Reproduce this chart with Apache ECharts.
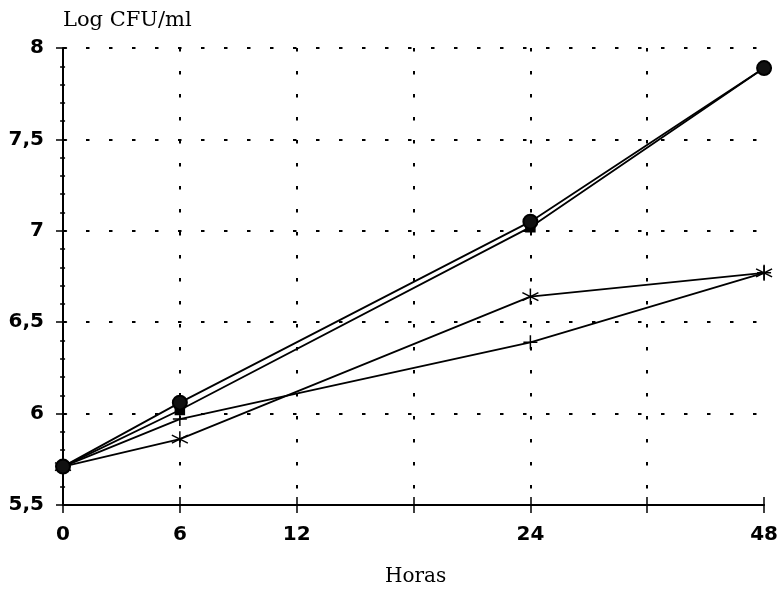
<!DOCTYPE html>
<html>
<head>
<meta charset="utf-8">
<script src="https://cdn.jsdelivr.net/npm/echarts@6/dist/echarts.min.js"></script>
<style>
  html, body { margin: 0; padding: 0; background: #fff; }
  #chart { width: 781px; height: 590px; }
</style>
</head>
<body>
<div id="chart"></div>
<script>
// Sampling times (hours) and the evenly spaced tick slots of the time axis
const hours = [0, 6, 24, 48];
const tickLabels = ['0', '6', '12', '', '24', '', '48'];

// Log CFU/ml for each culture
const seriesCircle = [5.71, 6.06, 7.05, 7.89];
const seriesSquare = [5.71, 6.02, 7.02, 7.89];
const seriesPlus = [5.71, 5.97, 6.39, 6.77];
const seriesStar = [5.71, 5.86, 6.64, 6.77];

const yTicks = [5.5, 6, 6.5, 7, 7.5, 8];

const slotOf = h => tickLabels.indexOf(String(h));
const toPoints = vals => vals.map((v, i) => [slotOf(hours[i]), v]);

const plusPath = 'path://M0,-1L0,1M-1,0L1,0';
const starPath = 'path://M0,-1L0,1M-0.87,-0.5L0.87,0.5M-0.87,0.5L0.87,-0.5';

const ink = '#000';
const tickFont = { color: ink, fontFamily: 'DejaVu Sans', fontWeight: 'bold', fontSize: 20 };
const dotted = { show: true, lineStyle: { color: ink, width: 2, type: [3.5, 19.5] } };

const gridLeft = 63, gridRight = 14, chartW = 781;

function lineSeries(data, symbol, size, extraItem) {
  return {
    type: 'line',
    data: toPoints(data),
    symbol: symbol,
    symbolSize: size,
    showSymbol: true,
    lineStyle: { color: ink, width: 1.8 },
    itemStyle: Object.assign({ color: ink, borderColor: ink, borderWidth: 1.5 }, extraItem || {}),
    z: 3
  };
}

const chart = echarts.init(document.getElementById('chart'));
chart.setOption({
  animation: false,
  backgroundColor: '#fff',
  grid: { left: gridLeft, right: gridRight, top: 48, bottom: 85, containLabel: false },
  xAxis: [
    {
      type: 'value', min: 0, max: tickLabels.length - 1, interval: 1, position: 'bottom',
      axisLine: { show: true, onZero: false, lineStyle: { color: ink, width: 2 } },
      axisTick: { show: true, length: 8, lineStyle: { color: ink, width: 1.5 } },
      axisLabel: { ...tickFont, margin: 20, formatter: v => tickLabels[v] || '' },
      splitLine: { ...dotted, showMinLine: false, showMaxLine: false }
    },
    {
      type: 'value', min: 0, max: tickLabels.length - 1, interval: 1, position: 'bottom',
      axisLine: { show: false, onZero: false },
      axisTick: { show: true, inside: true, length: 8, lineStyle: { color: ink, width: 1.5 } },
      axisLabel: { show: false },
      splitLine: { show: false }
    }
  ],
  yAxis: [
    {
      type: 'value', min: 5.5, max: 8, interval: 0.5, position: 'left',
      axisLine: { show: true, onZero: false, lineStyle: { color: ink, width: 2 } },
      axisTick: { show: true, length: 7, lineStyle: { color: ink, width: 1.5 } },
      axisLabel: { ...tickFont, margin: 19, formatter: v => yTicks.includes(v) ? String(v).replace('.', ',') : '' },
      splitLine: { ...dotted, showMinLine: false }
    },
    {
      // tick marks pointing into the plot, drawn along the left edge
      type: 'value', min: 5.5, max: 8, interval: 0.5, position: 'right',
      offset: -(chartW - gridLeft - gridRight),
      axisLine: { show: false, onZero: false },
      axisTick: { show: true, length: 7, lineStyle: { color: ink, width: 1.5 } },
      minorTick: { show: true, splitNumber: 5, length: 5, lineStyle: { color: ink, width: 1.5 } },
      axisLabel: { show: false },
      splitLine: { show: false }
    }
  ],
  series: [
    lineSeries(seriesPlus, plusPath, 14),
    lineSeries(seriesStar, starPath, 16),
    lineSeries(seriesSquare, 'rect', 9),
    lineSeries(seriesCircle, 'circle', 14, { color: '#111', borderWidth: 2 })
  ],
  graphic: [
    {
      type: 'text', left: 63, top: 10,
      style: { text: 'Log CFU/ml', fill: ink, font: '21px "DejaVu Serif"' }
    },
    {
      type: 'text', left: 385, top: 567,
      style: { text: 'Horas', fill: ink, font: '20px "DejaVu Serif"' }
    }
  ]
});
</script>
</body>
</html>
